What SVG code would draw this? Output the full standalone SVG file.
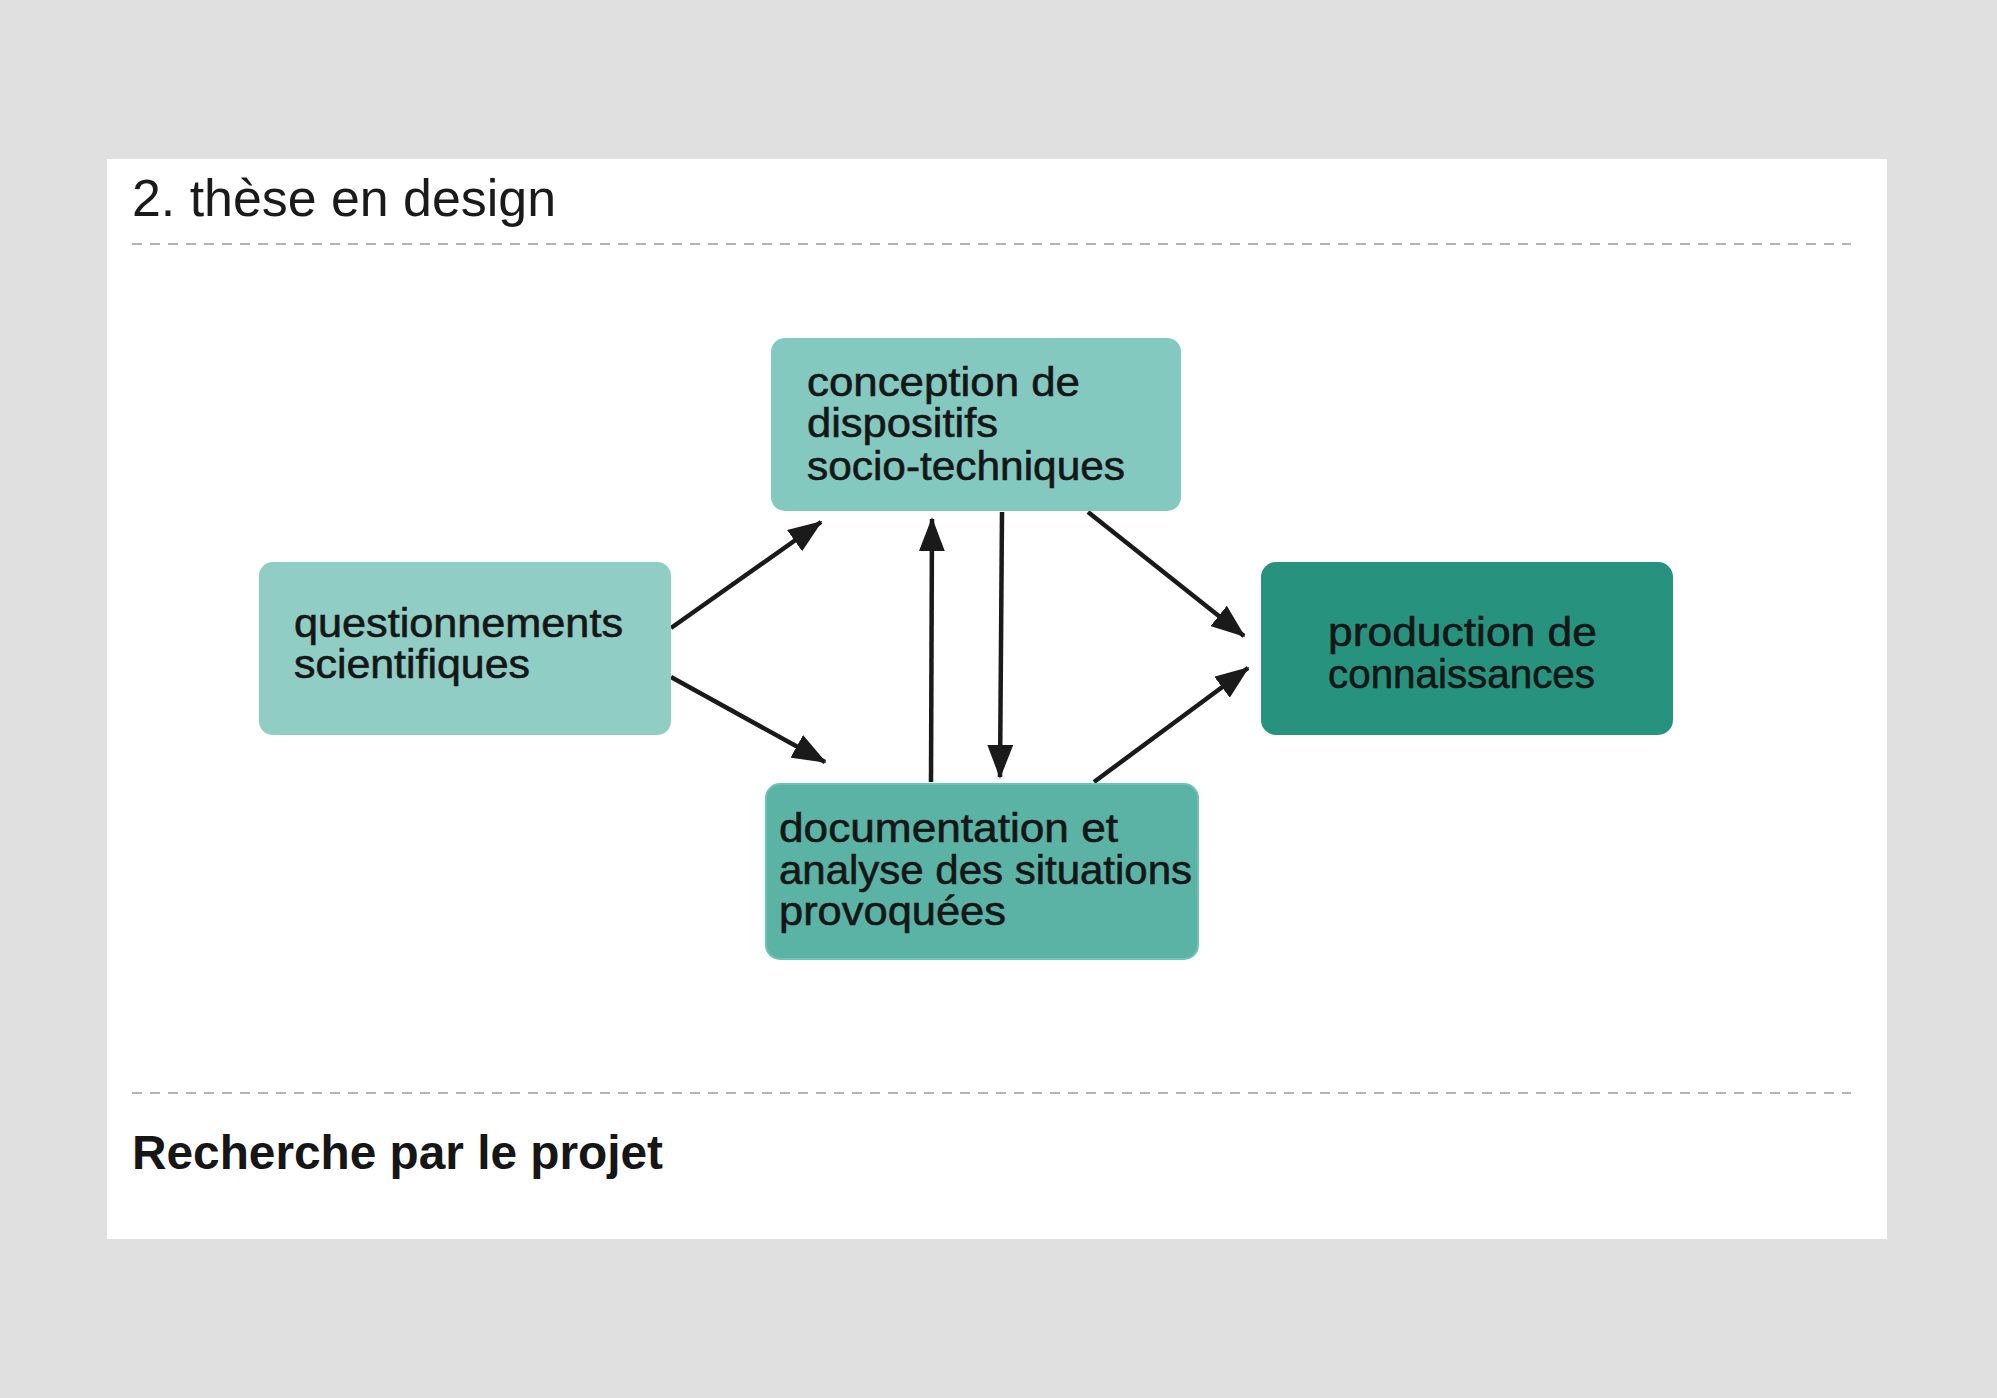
<svg xmlns="http://www.w3.org/2000/svg" width="1997" height="1398" viewBox="0 0 1997 1398">
  <style>
    .lbl { font-family: "Liberation Sans", Arial, sans-serif; font-size: 40px; fill: #161616; stroke: #161616; stroke-width: 0.6px; }
    .title { font-family: "Liberation Sans", Arial, sans-serif; font-size: 52px; fill: #1a1a1a; }
    .sub { font-family: "Liberation Sans", Arial, sans-serif; font-size: 48px; font-weight: bold; fill: #161616; }
    .dash { stroke: #b4b4b4; stroke-width: 2; stroke-dasharray: 10 8; fill: none; }
    .edge { stroke: #1a1a1a; stroke-width: 4.5; fill: none; marker-end: url(#ah); }
  </style>
  <defs>
    <marker id="ah" viewBox="0 0 10 10" refX="9.5" refY="5" markerUnits="userSpaceOnUse" markerWidth="34" markerHeight="26" orient="auto" preserveAspectRatio="none">
      <path d="M0,0 L10,5 L0,10 Z" fill="#1a1a1a"/>
    </marker>
  </defs>
  <rect x="0" y="0" width="1997" height="1398" fill="#e0e0e0"/>
  <rect x="107" y="159" width="1780" height="1080" fill="#ffffff"/>
  <text class="title" x="132" y="216" textLength="424" lengthAdjust="spacingAndGlyphs">2. thèse en design</text>
  <line class="dash" x1="132" y1="244" x2="1851" y2="244"/>
  <line class="dash" x1="132" y1="1093" x2="1851" y2="1093"/>
  <text class="sub" x="132" y="1169" textLength="531" lengthAdjust="spacingAndGlyphs">Recherche par le projet</text>

  <g id="connectors">
    <line class="edge" x1="671" y1="628" x2="821" y2="522"/>
    <line class="edge" x1="671" y1="677" x2="825" y2="762"/>
    <line class="edge" x1="931" y1="782" x2="932" y2="519"/>
    <line class="edge" x1="1002" y1="512" x2="1000" y2="777"/>
    <line class="edge" x1="1088" y1="512" x2="1244" y2="636"/>
    <line class="edge" x1="1094" y1="782" x2="1248" y2="668"/>
  </g>

  <g id="node-questionnements">
    <rect x="259" y="562" width="412" height="173" rx="14" fill="#8fcdc5"/>
    <text class="lbl" x="294" y="637" textLength="329" lengthAdjust="spacingAndGlyphs">questionnements</text>
    <text class="lbl" x="294" y="678" textLength="236" lengthAdjust="spacingAndGlyphs">scientifiques</text>
  </g>
  <g id="node-conception">
    <rect x="771" y="338" width="410" height="173" rx="14" fill="#83c9c0"/>
    <text class="lbl" x="807" y="396" textLength="273" lengthAdjust="spacingAndGlyphs">conception de</text>
    <text class="lbl" x="807" y="437" textLength="191" lengthAdjust="spacingAndGlyphs">dispositifs</text>
    <text class="lbl" x="807" y="480" textLength="318" lengthAdjust="spacingAndGlyphs">socio-techniques</text>
  </g>
  <g id="node-documentation">
    <rect x="766" y="784" width="432" height="175" rx="14" fill="#5bb3a5" stroke="#6cc4b4" stroke-width="2"/>
    <text class="lbl" x="779" y="842" textLength="339" lengthAdjust="spacingAndGlyphs">documentation et</text>
    <text class="lbl" x="779" y="884" textLength="413" lengthAdjust="spacingAndGlyphs">analyse des situations</text>
    <text class="lbl" x="779" y="925" textLength="227" lengthAdjust="spacingAndGlyphs">provoquées</text>
  </g>
  <g id="node-production">
    <rect x="1261" y="562" width="412" height="173" rx="15" fill="#27937f"/>
    <text class="lbl" x="1328" y="646" textLength="269" lengthAdjust="spacingAndGlyphs">production de</text>
    <text class="lbl" x="1328" y="688" textLength="267" lengthAdjust="spacingAndGlyphs">connaissances</text>
  </g>
</svg>
